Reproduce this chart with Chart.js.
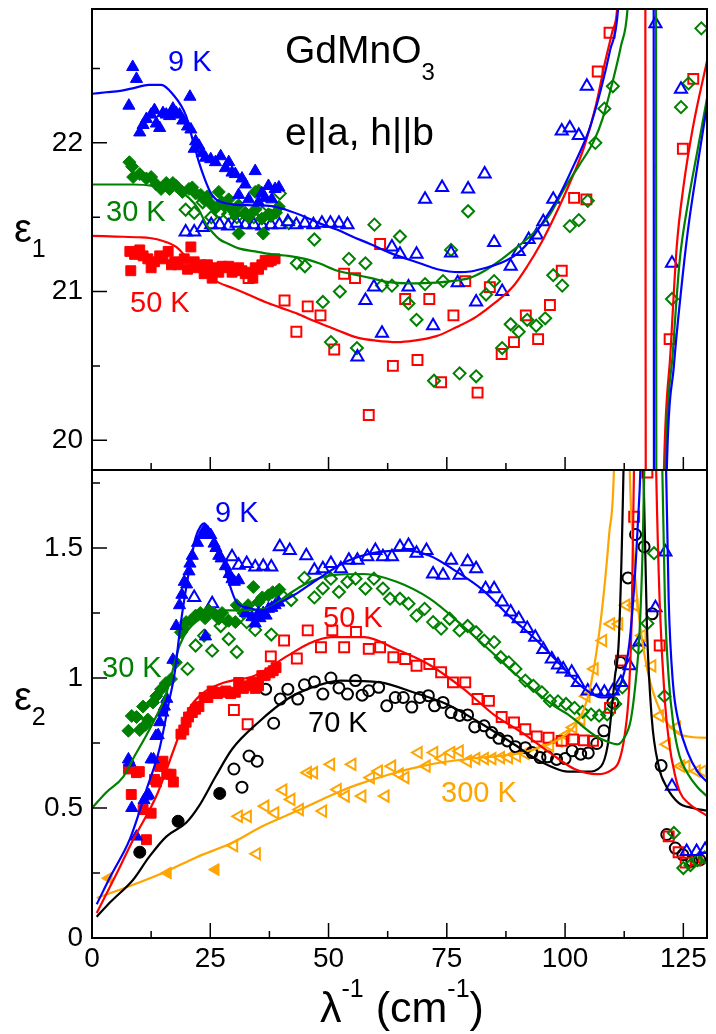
<!DOCTYPE html>
<html>
<head>
<meta charset="utf-8">
<script src="https://cdn.jsdelivr.net/npm/chart.js@4.4.0/dist/chart.umd.min.js"></script>
<style>
  html, body { margin: 0; padding: 0; background: #fff; }
  #wrap { position: relative; width: 716px; height: 1034px; }
  canvas { position: absolute; left: 0; top: 0; }
</style>
</head>
<body>
<div id="wrap">
  <canvas id="topChart" width="716" height="1034"></canvas>
  <canvas id="botChart" width="716" height="1034"></canvas>
</div>
<script>
// ---- axis ticks ----
const xTicks = [0, 25, 50, 75, 100, 125];
const eps1Ticks = [20, 21, 22];
const eps2Ticks = [0, 0.5, 1, 1.5];

// ---- eps1 (top panel): fits ----
const eps1Fit9K = [[0,22.33],[3,22.34],[6,22.35],[9,22.37],[12,22.39],[14.6,22.39],[17,22.33],[19.9,22.18],[21.2,22.03],[22.6,21.87],[23.8,21.76],[25,21.67],[26.2,21.62],[27.5,21.6],[30,21.585],[34,21.58],[38,21.575],[41,21.55],[45.2,21.5],[48,21.46],[51.9,21.415],[55,21.37],[58.8,21.32],[63,21.26],[69.3,21.19],[73,21.15],[77.6,21.13],[80,21.135],[83.3,21.16],[87,21.2],[90.1,21.26],[93,21.36],[96,21.5],[99,21.66],[102,21.86],[105,22.08],[107.5,22.35],[109.5,22.62],[111.2,22.9],[111.8,23.3],[112.5,24.5],[118.7,24.5],[118.8,19],[121.1,19],[121.5,19.8],[123,20.5],[124.5,21],[126,21.42],[128,21.85],[130,22.25]];
const eps1Fit30K = [[0,21.72],[5,21.72],[8.7,21.72],[13,21.71],[18.5,21.67],[20.5,21.63],[22.6,21.55],[24,21.46],[25.4,21.4],[27,21.35],[28.9,21.32],[31,21.29],[34.5,21.27],[38,21.25],[41.5,21.24],[45,21.22],[48,21.19],[51.9,21.14],[56.1,21.11],[59,21.09],[62.4,21.065],[67,21.055],[72.8,21.06],[76,21.07],[79.7,21.09],[83,21.14],[86.7,21.22],[89.5,21.29],[92.2,21.36],[96.4,21.5],[100,21.7],[103,21.85],[106.2,22.02],[108,22.17],[109.8,22.38],[111.8,22.65],[113.2,22.9],[113.8,23.3],[114.5,24.5],[119.2,24.5],[119.3,19],[120.8,19],[121.2,19.8],[122.8,20.6],[124.2,21.2],[126,21.6],[128,21.95],[130,22.3]];
const eps1Fit50K = [[0,21.375],[5,21.37],[10,21.365],[12.2,21.36],[15,21.34],[17.8,21.3],[20,21.23],[22.6,21.16],[24.5,21.1],[26.8,21.06],[30,21.02],[33,20.98],[36.6,20.93],[40,20.89],[43.5,20.85],[47.1,20.8],[51.9,20.74],[56.1,20.69],[60,20.67],[64.5,20.66],[68,20.67],[72.8,20.7],[77,20.76],[81.2,20.83],[85,20.92],[88.9,21.03],[92,21.17],[95,21.33],[98,21.52],[101,21.73],[104,21.97],[106.5,22.25],[108.5,22.55],[110,22.75],[111,22.9],[111.6,23.3],[112.3,24.5],[116.9,24.5],[117.1,19],[120.5,19],[120.9,19.8],[122.3,20.6],[123.6,21.3],[125,21.7],[127,22.1],[130,22.55]];

// ---- eps1 (top panel): data, filled = low-frequency set, open = high-frequency set ----
const eps1Filled9K = [[7.8,22.25],[8.6,22.51],[9.4,22.43],[10.1,22.07],[10.8,22.12],[11.5,22.16],[12.5,22.19],[13.2,22.22],[13.6,22.13],[14.3,22.1],[15,22.2],[15.7,22.19],[16.4,22.18],[17.1,22.23],[17.8,22.2],[18.5,22.19],[19.2,22.15],[20.2,22.11],[20.7,22.31],[20.9,22.09],[21.6,21.96],[21.9,22.01],[22.6,21.98],[23.3,21.93],[24,21.9],[25.1,21.89],[26.1,21.87],[27.2,21.91],[28.2,21.83],[28.9,21.87],[29.6,21.8],[30.3,21.79],[31,21.65],[31.7,21.76],[32.4,21.72],[33.1,21.62],[34.5,21.81],[35.2,21.6],[35.9,21.66],[36.6,21.63],[37.3,21.71],[38,21.62],[38.7,21.69],[39.5,21.7]];
const eps1Filled30K = [[7.9,21.87],[8.5,21.84],[8.7,21.77],[10.1,21.79],[11.5,21.76],[12.5,21.77],[13.6,21.72],[14.6,21.69],[15.7,21.73],[16.4,21.69],[17.1,21.73],[17.8,21.71],[19.1,21.67],[20.5,21.69],[21.2,21.7],[21.9,21.66],[23,21.65],[23.7,21.62],[24.4,21.64],[25.1,21.59],[26.1,21.56],[26.8,21.67],[27.5,21.6],[28.2,21.58],[28.9,21.62],[29.6,21.55],[30.3,21.52],[31,21.58],[31,21.39],[32.4,21.53],[33.1,21.5],[34.5,21.55],[34.5,21.67],[35.2,21.68],[35.9,21.49],[36.2,21.39],[37.3,21.52],[37.9,21.51],[38.9,21.53],[39.5,21.57]];
const eps1Filled50K = [[8,21.27],[8.2,21.14],[9,21.25],[10.1,21.28],[10.8,21.24],[11.8,21.22],[12.5,21.16],[13.2,21.2],[14.3,21.24],[15,21.22],[16.1,21.27],[16.8,21.18],[17.5,21.2],[18.2,21.18],[19.5,21.22],[20.2,21.15],[20.9,21.3],[21.6,21.2],[22.3,21.16],[23,21.18],[23.7,21.12],[24.4,21.18],[25.1,21.15],[25.4,21.09],[26.1,21.16],[26.8,21.13],[27.5,21.17],[28.2,21.16],[28.9,21.17],[29.6,21.13],[30.3,21.15],[31,21.16],[31.7,21.14],[32.4,21.12],[33.1,21.13],[34,21.09],[34.5,21.16],[35.2,21.15],[35.9,21.18],[36.6,21.21],[37.3,21.2],[37.9,21.21],[38.7,21.22]];
const eps1Open9K = [[19.8,21.4],[21.6,21.4],[23.4,21.43],[25.2,21.45],[27,21.45],[28.8,21.44],[30.6,21.46],[32.4,21.45],[34.2,21.45],[36,21.44],[37.8,21.45],[39.6,21.45],[41.4,21.47],[43.2,21.45],[45,21.46],[46.8,21.45],[48.6,21.46],[50.4,21.46],[52.2,21.46],[54,21.45],[56.1,20.56],[57.8,20.94],[59.6,21.03],[61.3,20.72],[63.4,21.3],[65.1,21.25],[66.9,21.03],[68.6,21.25],[70.4,21.62],[72.1,20.77],[74,21.7],[75.9,21.26],[77.3,21.06],[79.5,21.69],[81.2,20.93],[83,21.79],[85,21.33],[86.7,21],[88.5,21.17],[90.2,21.27],[92.3,21.35],[94,21.38],[95.4,21.47],[97.5,21.62],[99.3,22.08],[101,22.1],[102.9,22.05],[104.6,22.38],[119.1,22.8],[122.6,21.19],[124.5,22.36]];
const eps1Open30K = [[19.8,21.55],[21.6,21.53],[23.4,21.6],[25.2,21.5],[27,21.53],[28.8,21.52],[30.6,21.5],[32.4,21.52],[34.2,21.5],[36,21.53],[37.8,21.51],[39.7,21.66],[41.6,21.46],[43.3,21.19],[45,21.17],[47,21.35],[48.8,20.93],[50.5,20.66],[52.4,21],[54.3,21.22],[56,20.62],[57.8,21.19],[59.7,21.45],[61.3,21.04],[63.4,21.04],[65.1,21.37],[66.9,20.92],[68.6,20.81],[70.4,21.05],[72.3,20.4],[74.2,21.07],[75.9,21.28],[77.7,20.45],[79.5,21.54],[81.2,20.43],[83.3,20.98],[85,21.07],[86.7,20.62],[88.5,20.78],[90.2,20.73],[92,20.81],[93.9,20.77],[95.8,20.82],[97.5,21.11],[99.4,21.04],[101,21.44],[102.9,21.48],[104.8,21.61],[106.4,22],[108.3,22.23],[110.1,22.38],[122.6,20.95],[124.5,22.24],[126.1,22.4],[128.8,22.77]];
const eps1Open50K = [[33.1,21.09],[40.7,20.94],[43.2,20.73],[45.6,20.9],[48.3,20.84],[51.2,20.61],[53.3,21.12],[55.6,21.09],[58.5,20.17],[60.9,21.32],[63.6,20.5],[66.2,20.95],[68.8,20.54],[71.3,20.95],[73.8,20.39],[76.4,20.84],[78.9,21.07],[81.5,20.32],[84.1,21.03],[86.6,20.58],[89.2,20.66],[91.7,20.84],[94.3,20.68],[96.8,20.91],[99.3,21.14],[101.9,21.63],[104.5,21.62],[106.9,22.48],[109.4,22.74],[122.1,20.68],[124.9,21.96],[127.1,22.43]];

// ---- eps2 (bottom panel): fits ----
const eps2Fit9K = [[1,0.13],[4,0.24],[8,0.38],[11.5,0.57],[14.3,0.73],[16.4,0.92],[17.4,1.01],[18.8,1.215],[20.5,1.41],[21.9,1.54],[23,1.585],[23.7,1.595],[24.5,1.58],[25.4,1.55],[27.5,1.47],[28.9,1.37],[30.6,1.29],[33.1,1.27],[35.9,1.26],[38.7,1.28],[42.8,1.32],[47.7,1.38],[54,1.45],[60.9,1.485],[66.5,1.49],[71.4,1.47],[77,1.41],[82.5,1.34],[88.1,1.24],[93.7,1.15],[97.2,1.086],[100.6,1.02],[104,0.96],[107.6,0.925],[110,0.93],[112,0.99],[113.5,1.12],[114.6,1.35],[115.4,1.6],[116,1.85],[116.7,2.6],[118.8,3.2],[120.8,2.6],[121.3,1.85],[121.9,1.3],[122.8,0.98],[124,0.83],[126,0.71],[128,0.64],[130,0.6]];
const eps2Fit30K = [[0,0.5],[3,0.56],[6.6,0.62],[9,0.7],[11.5,0.78],[13.5,0.85],[15.3,0.92],[16.4,0.983],[18.5,1.125],[20.5,1.19],[24,1.24],[27.5,1.26],[32.4,1.26],[37.3,1.27],[41.4,1.32],[44.9,1.36],[50.5,1.395],[57.5,1.4],[64.4,1.37],[71.4,1.305],[78.4,1.2],[85.3,1.086],[92.3,0.97],[97.9,0.89],[100.6,0.86],[106.2,0.78],[109,0.755],[111.1,0.745],[112.5,0.77],[113.9,0.84],[115,1],[115.7,1.16],[116.4,1.5],[116.8,1.85],[117.5,2.6],[119.3,3.2],[120,2.6],[120.5,1.85],[121.1,1.3],[121.9,1],[122.9,0.82],[124.2,0.7],[126,0.63],[128,0.58],[130,0.545]];
const eps2Fit50K = [[1,0.096],[5,0.24],[8.7,0.378],[13.6,0.546],[17.8,0.75],[20.5,0.88],[23.3,0.94],[27.5,0.98],[34.5,1.01],[41.4,1.086],[45.6,1.13],[50.5,1.157],[57.5,1.157],[64.4,1.11],[71.4,1.05],[78.4,0.96],[85.3,0.854],[90.9,0.79],[97.2,0.707],[102,0.65],[106.9,0.63],[109.7,0.645],[111.4,0.68],[112.6,0.78],[113.5,0.95],[114.1,1.25],[114.6,1.85],[115.3,2.6],[117,3.2],[118.6,2.6],[119.2,1.85],[120,1.29],[121.1,0.91],[122,0.75],[123.2,0.63],[124.3,0.56],[126,0.52],[130,0.47]];
const eps2Fit70K = [[1,0.082],[4,0.14],[8.7,0.224],[12,0.31],[15.7,0.39],[19.9,0.443],[22.6,0.507],[26.1,0.62],[29.6,0.726],[35.2,0.83],[41.4,0.92],[46,0.96],[52.6,0.99],[60.9,0.983],[67.9,0.945],[74.9,0.9],[81.8,0.83],[88.8,0.75],[93.7,0.69],[97,0.66],[100.6,0.64],[104.8,0.64],[107.6,0.66],[109,0.74],[109.7,0.85],[110.5,1],[111.4,1.16],[112.4,1.85],[113,2.6],[114.5,3.2],[116,2.6],[116.5,1.85],[117.3,1.2],[118.3,0.85],[119.8,0.66],[121.5,0.58],[124,0.52],[127,0.5],[130,0.49]];
const eps2Fit300K = [[1,0.154],[8,0.2],[15.7,0.256],[22,0.31],[29.6,0.366],[36,0.43],[43.5,0.49],[51.9,0.56],[56.1,0.59],[63,0.63],[70.7,0.665],[80,0.69],[90.2,0.71],[95,0.735],[97.2,0.75],[100,0.78],[102,0.815],[104,0.88],[105.5,0.98],[107.6,1.23],[109.3,1.55],[110.4,1.85],[111,2.6],[112,3.2],[113,2.6],[113.6,1.85],[114.4,1.5],[115.3,1.29],[117.4,1.03],[120.2,0.87],[123.6,0.79],[126,0.775],[130,0.77]];

// ---- eps2 (bottom panel): data ----
const eps2Filled9K = [[7.7,0.687],[8,0.675],[8.4,0.5],[9.4,0.39],[11,0.53],[11.5,0.545],[12,0.55],[12.5,0.687],[13,0.687],[13.5,0.777],[14,0.78],[14.3,0.83],[15,0.867],[15.3,0.89],[15.8,0.92],[17.1,1.07],[17.8,1.2],[18.5,1.28],[19,1.32],[19.5,1.37],[20,1.36],[20.5,1.41],[20.7,1.44],[21.2,1.47],[22.3,1.52],[23.3,1.55],[23.8,1.57],[24,1.16],[24.5,1.56],[25.1,1.55],[25.8,1.517],[26.2,1.5],[26.8,1.47],[27.3,1.46],[28.2,1.43],[29,1.4],[29.6,1.38],[30.1,1.37],[31,1.376],[32.5,1.25],[33.8,1.234],[34.5,1.21],[35.2,1.25],[35.5,1.23],[36.2,1.25],[36.8,1.24],[37.3,1.266],[38,1.27],[38.7,1.28],[39.5,1.29]];
const eps2Filled30K = [[7.7,0.797],[8.4,0.854],[9.4,0.85],[10.1,0.8],[10.8,0.89],[11.3,0.82],[11.8,0.84],[12.9,0.906],[13.6,0.93],[14.6,0.957],[15.6,0.98],[16.7,0.996],[17.7,1.06],[18.8,1.176],[19.3,1.19],[19.9,1.215],[20.9,1.22],[21.9,1.24],[22.9,1.25],[23.9,1.23],[24.7,1.26],[25.7,1.25],[26.8,1.228],[27.5,1.25],[28.9,1.22],[30.3,1.215],[30.6,1.28],[32,1.25],[33,1.28],[34.1,1.35],[35.2,1.292],[36,1.31],[37.3,1.318],[38.2,1.33],[39,1.33],[39.6,1.34]];
const eps2Filled50K = [[7.7,0.65],[8.3,0.552],[9.4,0.636],[10,0.64],[10.8,0.494],[11.5,0.378],[12.5,0.48],[13.2,0.61],[13.6,0.6],[14.3,0.66],[14.8,0.67],[15,0.68],[15.8,0.63],[16.7,0.63],[17.2,0.6],[18.8,0.784],[19.4,0.8],[19.9,0.83],[20.4,0.85],[21.2,0.867],[21.9,0.88],[22.6,0.89],[23.7,0.925],[24.5,0.925],[25.4,0.95],[26.5,0.94],[27.3,0.945],[28.3,0.95],[29.3,0.94],[30.3,0.945],[31,0.983],[32,0.96],[33,0.97],[33.8,0.983],[34.5,0.96],[35.2,0.97],[35.9,1.009],[36.6,1.01],[37.6,1.02],[38.3,1.028],[38.9,1.04]];
const eps2Filled70K = [[10.1,0.33],[18.2,0.449],[27,0.556]];
const eps2Filled300K = [[3.5,0.23],[16,0.25],[26.1,0.263]];
const eps2Open9K = [[21.6,1.31],[25.4,1.286],[29.6,1.466],[31,1.434],[32.7,1.44],[34.5,1.427],[36.2,1.43],[37.9,1.427],[39.7,1.505],[41.8,1.49],[45.3,1.47],[47,1.414],[48.8,1.42],[50.5,1.44],[52.6,1.42],[54.3,1.453],[56.1,1.453],[58.2,1.466],[59.9,1.49],[61.5,1.466],[63.4,1.466],[65.1,1.505],[66.9,1.51],[68.6,1.48],[70.7,1.49],[72.1,1.4],[74.2,1.395],[75.9,1.453],[77.7,1.395],[79.4,1.447],[81.2,1.42],[83.2,1.343],[85,1.343],[86.7,1.292],[88.5,1.254],[90.2,1.228],[92,1.19],[93.7,1.157],[95.4,1.11],[97.2,1.073],[98.5,1.05],[99.6,1.035],[101.4,1.022],[102.7,0.983],[104.8,0.95],[106.6,0.95],[108.3,0.945],[110.1,0.95],[111.8,0.983],[113.6,1.047],[115.7,1.138],[119.1,1.27],[121.2,1.485],[122.6,0.584],[125.7,0.333],[127.8,0.333],[129.6,0.34]];
const eps2Open30K = [[20.2,1.035],[21.9,1.125],[23.7,1.163],[25.4,1.105],[27.2,1.2],[28.9,1.15],[30.6,1.1],[32.7,1.215],[34.5,1.185],[37.9,1.167],[40,1.32],[42.1,1.3],[44.9,1.385],[47,1.31],[48.8,1.345],[50.5,1.382],[52.2,1.331],[54,1.37],[55.7,1.382],[57.8,1.344],[59.6,1.382],[61.5,1.344],[63,1.305],[65.1,1.305],[66.9,1.286],[68.6,1.24],[70.3,1.266],[72.1,1.215],[73.8,1.19],[75.6,1.228],[77.7,1.183],[79.4,1.2],[81.2,1.176],[82.9,1.144],[85,1.138],[86.4,1.08],[88.1,1.06],[89.5,1.035],[91.6,0.99],[93.3,0.97],[95.1,0.945],[96.8,0.912],[98.5,0.91],[100.2,0.9],[102,0.885],[103.7,0.87],[105.5,0.86],[107.2,0.855],[108.9,0.86],[110.6,0.9],[112.1,0.964],[115.5,1.115],[117.4,1.21],[118.8,1.48],[121,0.93],[123,0.404],[125,0.269],[126.5,0.28],[128,0.3],[129.5,0.31]];
const eps2Open50K = [[30,0.877],[32.9,0.822],[37.8,1.083],[40.6,1.144],[43.3,1.075],[45.6,1.183],[48.4,1.118],[50.8,1.183],[53.3,1.118],[55.8,1.177],[58.5,1.112],[60.9,1.118],[63.7,1.08],[66.2,1.073],[68.6,1.047],[71.3,1.054],[73.8,1.022],[76.3,0.983],[78.9,0.983],[81.5,0.919],[83.9,0.912],[86.6,0.85],[89.2,0.829],[91.6,0.803],[94,0.775],[96.5,0.77],[99.3,0.758],[101.7,0.764],[104,0.76],[105.9,0.758],[109.5,0.885],[111.8,1.067],[114.6,1.62],[117.4,1.79],[120,1.125],[121.9,0.391],[124,0.33],[125.5,0.29],[127.8,0.3],[129.3,0.31]];
const eps2Open70K = [[30,0.65],[31.7,0.58],[33.2,0.7],[34.9,0.68],[36.7,0.957],[38.4,0.826],[39.8,0.919],[41.4,0.957],[43.5,0.919],[44.9,0.974],[47,0.985],[48.8,0.938],[50.5,1],[52.2,0.962],[54,0.938],[55.7,0.99],[57.1,0.934],[58.5,0.951],[60.6,0.964],[62.3,0.893],[64.1,0.925],[65.8,0.925],[67.6,0.888],[69.3,0.925],[71.1,0.932],[72.4,0.893],[74.2,0.906],[75.9,0.867],[77.7,0.856],[79.4,0.858],[80.9,0.812],[82.9,0.816],[84.5,0.79],[86,0.768],[87.8,0.758],[89.5,0.736],[91.6,0.732],[93,0.713],[94.7,0.694],[96.3,0.697],[98.2,0.687],[100,0.69],[101.5,0.72],[103.3,0.707],[104.9,0.712],[106.7,0.748],[108.2,0.797],[110.1,0.906],[111.7,1.06],[113.3,1.385],[114.9,1.552],[116.7,1.505],[118.4,1.247],[120.3,0.663],[121.5,0.398],[123.3,0.346],[124.9,0.32],[126.8,0.295],[128.5,0.3]];
const eps2Open300K = [[30,0.355],[31,0.468],[32.9,0.468],[34.8,0.324],[36.6,0.507],[38.7,0.481],[40.4,0.569],[42.1,0.533],[43.9,0.494],[45.6,0.636],[46.9,0.636],[48.8,0.488],[50.5,0.668],[51.9,0.571],[53.6,0.546],[55,0.668],[57.1,0.546],[58.9,0.617],[60.6,0.642],[62,0.546],[63.4,0.661],[65,0.63],[66.2,0.617],[69,0.713],[70.7,0.661],[72.3,0.713],[74,0.69],[75.9,0.713],[77.7,0.719],[79.4,0.68],[81.2,0.69],[83,0.69],[84.6,0.69],[86.4,0.694],[88.1,0.694],[89.8,0.7],[91.6,0.71],[93.3,0.71],[95.1,0.726],[96.8,0.74],[98.6,0.758],[100.2,0.78],[101.7,0.81],[103.4,0.84],[104.5,0.93],[106.2,1.035],[108,1.144],[109.7,1.208],[111.4,1.208],[112.9,1.28],[114.6,1.28],[116.3,1.163],[118.4,1.047],[120,0.854],[121.5,0.745],[123.6,0.81],[124.5,0.661],[125.6,0.661],[127.8,0.642],[129.1,0.642]];

const FONT = '"Liberation Sans", Arial, Helvetica, sans-serif';
const BLUE = '#0000ff', GREEN = '#008000', RED = '#ff0000', BLACK = '#000000', ORANGE = '#ffa500';

function fitLine(data, color) {
  return {
    data, showLine: true, borderColor: color, borderWidth: 2.2,
    pointRadius: 0, fill: false, cubicInterpolationMode: 'monotone'
  };
}

function marks(data, color, style, open, radius, rotation) {
  return {
    data, showLine: false, pointStyle: style, pointRadius: radius,
    pointRotation: rotation || 0,
    pointBackgroundColor: open ? 'rgba(0,0,0,0)' : color,
    pointBorderColor: color, pointBorderWidth: open ? 2 : 1
  };
}

// y axes: fixed width, no extra label padding so the plot areas sit where they should
function fixY(s) {
  s.width = 92;
  s.paddingTop = 0;
  s.paddingBottom = 0;
}

// draw text runs with sub/superscripts, one after another
function drawRich(ctx, x, y, parts, color) {
  ctx.fillStyle = color;
  let cx = x;
  parts.forEach(p => {
    ctx.font = p.size + 'px ' + FONT;
    ctx.fillText(p.t, cx, y + (p.dy || 0));
    cx += ctx.measureText(p.t).width;
  });
}

// frame, inward tick marks and annotations
function decoPlugin(cfg) {
  return {
    id: 'deco',
    afterDraw(chart) {
      const { ctx, chartArea: a, scales } = chart;
      ctx.save();
      ctx.strokeStyle = '#000';
      ctx.lineWidth = 1.5;
      ctx.beginPath();
      cfg.yMajor.forEach(v => { const p = scales.y.getPixelForValue(v); ctx.moveTo(a.left, p); ctx.lineTo(a.left + 15, p); });
      cfg.yMinor.forEach(v => { const p = scales.y.getPixelForValue(v); ctx.moveTo(a.left, p); ctx.lineTo(a.left + 8, p); });
      cfg.xMajor.forEach(v => { const p = scales.x.getPixelForValue(v); ctx.moveTo(p, a.bottom); ctx.lineTo(p, a.bottom - cfg.xMajorLen); });
      cfg.xMinor.forEach(v => { const p = scales.x.getPixelForValue(v); ctx.moveTo(p, a.bottom); ctx.lineTo(p, a.bottom - 7); });
      ctx.stroke();
      ctx.lineWidth = 2;
      ctx.strokeRect(a.left, a.top, a.right - a.left, a.bottom - a.top);
      ctx.textAlign = 'left';
      ctx.textBaseline = 'alphabetic';
      cfg.texts.forEach(t => drawRich(ctx, t.x, t.y, t.parts, t.color));
      ctx.restore();
    }
  };
}

const minorX = [12.5, 37.5, 62.5, 87.5, 112.5];

new Chart(document.getElementById('topChart'), {
  type: 'scatter',
  data: {
    datasets: [
      fitLine(eps1Fit9K, BLUE),
      fitLine(eps1Fit30K, GREEN),
      fitLine(eps1Fit50K, RED),
      marks(eps1Filled9K, BLUE, 'triangle', false, 7),
      marks(eps1Filled30K, GREEN, 'rectRot', false, 6.5),
      marks(eps1Filled50K, RED, 'rect', false, 7),
      marks(eps1Open9K, BLUE, 'triangle', true, 7),
      marks(eps1Open30K, GREEN, 'rectRot', true, 6),
      marks(eps1Open50K, RED, 'rect', true, 7)
    ]
  },
  options: {
    responsive: false,
    animation: false,
    events: [],
    layout: { padding: { top: 5, right: 2, bottom: 564, left: 0 } },
    plugins: { legend: { display: false }, tooltip: { enabled: false } },
    scales: {
      x: { type: 'linear', min: 0, max: 130, display: false },
      y: {
        type: 'linear', min: 19.8, max: 22.9,
        afterFit: fixY,
        afterBuildTicks: s => { s.ticks = eps1Ticks.map(v => ({ value: v })); },
        grid: { display: false, drawTicks: false },
        border: { display: false },
        ticks: { font: { family: FONT, size: 28 }, color: '#000', padding: 9 }
      }
    }
  },
  plugins: [decoPlugin({
    yMajor: [20, 21, 22], yMinor: [20.5, 21.5, 22.5],
    xMajor: [25, 50, 75, 100, 125], xMinor: minorX, xMajorLen: 13,
    texts: [
      { x: 285, y: 63, color: '#000', parts: [{ t: 'GdMnO', size: 39 }, { t: '3', size: 24, dy: 17 }] },
      { x: 285, y: 145, color: '#000', parts: [{ t: 'e||a, h||b', size: 39 }] },
      { x: 14, y: 242, color: '#000', parts: [{ t: 'ε', size: 40 }, { t: '1', size: 25, dy: 15 }] },
      { x: 168, y: 71, color: BLUE, parts: [{ t: '9 K', size: 29 }] },
      { x: 106, y: 221, color: GREEN, parts: [{ t: '30 K', size: 29 }] },
      { x: 130, y: 312, color: RED, parts: [{ t: '50 K', size: 29 }] }
    ]
  })]
});

new Chart(document.getElementById('botChart'), {
  type: 'scatter',
  data: {
    datasets: [
      fitLine(eps2Fit9K, BLUE),
      fitLine(eps2Fit30K, GREEN),
      fitLine(eps2Fit50K, RED),
      fitLine(eps2Fit70K, BLACK),
      fitLine(eps2Fit300K, ORANGE),
      marks(eps2Filled9K, BLUE, 'triangle', false, 7),
      marks(eps2Filled30K, GREEN, 'rectRot', false, 6.5),
      marks(eps2Filled50K, RED, 'rect', false, 7),
      marks(eps2Filled70K, BLACK, 'circle', false, 6),
      marks(eps2Filled300K, ORANGE, 'triangle', false, 7, -90),
      marks(eps2Open9K, BLUE, 'triangle', true, 7),
      marks(eps2Open30K, GREEN, 'rectRot', true, 6),
      marks(eps2Open50K, RED, 'rect', true, 7),
      marks(eps2Open70K, BLACK, 'circle', true, 5.5),
      marks(eps2Open300K, ORANGE, 'triangle', true, 6.5, -90)
    ]
  },
  options: {
    responsive: false,
    animation: false,
    events: [],
    layout: { padding: { top: 470, right: 2, bottom: 0, left: 0 } },
    plugins: { legend: { display: false }, tooltip: { enabled: false } },
    scales: {
      x: {
        type: 'linear', min: 0, max: 130,
        afterFit: s => { s.height = 96; },
        afterBuildTicks: s => { s.ticks = xTicks.map(v => ({ value: v })); },
        grid: { display: false, drawTicks: false },
        border: { display: false },
        ticks: { font: { family: FONT, size: 28 }, color: '#000', padding: 4, maxRotation: 0 }
      },
      y: {
        type: 'linear', min: 0, max: 1.8,
        afterFit: fixY,
        afterBuildTicks: s => { s.ticks = eps2Ticks.map(v => ({ value: v })); },
        grid: { display: false, drawTicks: false },
        border: { display: false },
        ticks: { font: { family: FONT, size: 28 }, color: '#000', padding: 9, callback: v => String(v) }
      }
    }
  },
  plugins: [decoPlugin({
    yMajor: [0.5, 1, 1.5], yMinor: [0.25, 0.75, 1.25, 1.75],
    xMajor: [25, 50, 75, 100, 125], xMinor: minorX, xMajorLen: 15,
    texts: [
      { x: 14, y: 710, color: '#000', parts: [{ t: 'ε', size: 40 }, { t: '2', size: 25, dy: 15 }] },
      { x: 215, y: 522, color: BLUE, parts: [{ t: '9 K', size: 29 }] },
      { x: 102, y: 677, color: GREEN, parts: [{ t: '30 K', size: 29 }] },
      { x: 323, y: 627, color: RED, parts: [{ t: '50 K', size: 29 }] },
      { x: 308, y: 732, color: BLACK, parts: [{ t: '70 K', size: 29 }] },
      { x: 441, y: 802, color: ORANGE, parts: [{ t: '300 K', size: 29 }] },
      { x: 320, y: 1022, color: '#000', parts: [
        { t: 'λ', size: 43 }, { t: '-1', size: 25, dy: -25 }, { t: ' (cm', size: 43 },
        { t: '-1', size: 25, dy: -25 }, { t: ')', size: 43 }
      ] }
    ]
  })]
});
</script>
</body>
</html>
